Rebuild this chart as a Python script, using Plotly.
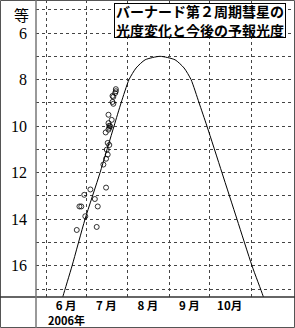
import plotly.graph_objects as go

# observed magnitudes (date, total magnitude)
obs_dates = [
    "2006-06-23 22:00", "2006-06-25 22:00", "2006-06-27 07:00", "2006-06-29 12:00",
    "2006-06-30 07:00", "2006-07-04 02:00", "2006-07-07 10:00", "2006-07-08 19:00",
    "2006-07-09 14:00", "2006-07-13 19:00", "2006-07-15 19:00", "2006-07-15 19:00",
    "2006-07-16 07:00", "2006-07-15 12:00", "2006-07-17 00:00", "2006-07-17 00:00",
    "2006-07-18 05:00", "2006-07-17 14:00", "2006-07-17 14:00", "2006-07-18 05:00",
    "2006-07-18 05:00", "2006-07-17 14:00", "2006-07-18 19:00", "2006-07-20 00:00",
    "2006-07-20 14:00", "2006-07-21 05:00", "2006-07-20 14:00", "2006-07-21 05:00",
    "2006-07-22 14:00", "2006-07-23 02:00", "2006-07-23 02:00",
]
obs_mags = [
    14.46, 13.45, 13.45, 12.95,
    13.87, 12.72, 13.13, 14.33,
    13.45, 11.65, 12.64, 11.40,
    11.01, 10.27, 11.22, 10.72,
    10.81, 9.51, 9.87, 9.98,
    10.07, 10.15, 10.00, 9.73,
    8.96, 9.04, 8.70, 8.74,
    8.58, 8.50, 8.41,
]

# predicted light curve
pred_dates = [
    "2006-06-12 05:00", "2006-06-13 17:00", "2006-06-20 10:00", "2006-06-30 02:00",
    "2006-07-11 07:00", "2006-07-21 17:00", "2006-07-27 00:00", "2006-08-01 22:00",
    "2006-08-07 05:00", "2006-08-13 22:00", "2006-08-25 02:00", "2006-09-05 07:00",
    "2006-09-12 00:00", "2006-09-17 05:00", "2006-09-23 05:00", "2006-09-29 02:00",
    "2006-10-10 07:00", "2006-10-21 12:00", "2006-11-01 17:00", "2006-11-09 22:00",
    "2006-11-11 10:00",
]
pred_mags = [
    17.6, 17.29, 16.0, 14.0,
    12.0, 10.0, 9.0, 8.0,
    7.5, 7.15, 7.0, 7.15,
    7.5, 8.0, 9.0, 10.0,
    12.0, 14.0, 16.0, 17.29,
    17.6,
]

month_label_pos = ["2006-06-16", "2006-07-16", "2006-08-16", "2006-09-16", "2006-10-16"]
month_labels = ["6 月", "7 月", "8 月", "9 月", "10月"]
month_starts = ["2006-06-01", "2006-07-01", "2006-08-01", "2006-09-01", "2006-10-01", "2006-11-01"]
mag_ticks = [6, 8, 10, 12, 14, 16]
mag_grid = [5, 7, 9, 11, 13, 15, 17]

title_text = "バーナード第２周期彗星の<br>光度変化と今後の予報光度"
y_title = "等"
year_label = "2006年"

W, H = 295, 328
L, R, T, B = 36, 2, 0, 31
PW, PH = W - L - R, H - T - B

fig = go.Figure()
fig.add_trace(go.Scatter(
    x=pred_dates, y=pred_mags, mode="lines", line=dict(color="black", width=1, shape="spline", smoothing=0.6),
    hoverinfo="skip", showlegend=False,
))
fig.add_trace(go.Scatter(
    x=obs_dates, y=obs_mags, mode="markers",
    marker=dict(symbol="circle-open", size=5, color="black", line=dict(width=0.8, color="black")),
    showlegend=False,
))

grid_col = "#444"
fig.update_layout(
    width=W, height=H, margin=dict(l=L, r=R, t=T, b=B),
    paper_bgcolor="white", plot_bgcolor="white",
    font=dict(family="Noto Sans CJK JP", color="black"),
    xaxis=dict(
        type="date", range=["2006-05-24 12:00", "2006-12-02 07:00"],
        tickmode="array", tickvals=month_label_pos, ticktext=month_labels,
        showgrid=False, zeroline=False, showline=False, ticks="",
        tickfont=dict(family="Noto Sans CJK JP", size=11.5, color="black", weight="bold"),
        ticklabelstandoff=0,
        minor=dict(tickmode="array", tickvals=month_starts, showgrid=True, gridcolor=grid_col,
                   gridwidth=1, griddash="dot", ticks=""),
    ),
    yaxis=dict(
        range=[17.34, 4.58], tickmode="array", tickvals=mag_ticks,
        showgrid=True, gridcolor=grid_col, gridwidth=1, griddash="dot",
        zeroline=False, showline=False, ticks="",
        tickfont=dict(family="Liberation Serif", size=16, color="black"),
        ticklabelstandoff=8,
        minor=dict(tickmode="array", tickvals=mag_grid, showgrid=True, gridcolor=grid_col,
                   gridwidth=1, griddash="dot", ticks=""),
    ),
)

px = lambda v: (v - L) / PW
py = lambda v: (H - B - v) / PH

frame = "#555"
fig.add_shape(type="rect", xref="paper", yref="paper", x0=px(0.5), x1=px(W - 0.5), y0=py(H - 0.5), y1=py(0.5),
              line=dict(color=frame, width=1))
fig.add_shape(type="line", xref="paper", yref="paper", x0=px(0), x1=px(W), y0=0, y1=0,
              line=dict(color="#333", width=1.5))
fig.add_shape(type="line", xref="paper", yref="paper", x0=0, x1=0, y0=py(H), y1=1,
              line=dict(color="#777", width=1.5))

fig.add_annotation(xref="paper", yref="paper", x=px(200), y=py(20), xanchor="center", yanchor="middle",
                   text=title_text, showarrow=False, width=170, height=33, valign="middle",
                   font=dict(family="Noto Sans CJK JP", size=14, color="black", weight="bold"),
                   bgcolor="white", bordercolor="black", borderwidth=1, borderpad=0, align="center")
fig.add_annotation(xref="paper", yref="paper", x=px(21), y=py(14), xanchor="center", yanchor="middle",
                   text=y_title, showarrow=False,
                   font=dict(family="Noto Sans CJK JP", size=15, color="black"))
fig.add_annotation(xref="paper", yref="paper", x=px(66), y=py(319.5), xanchor="center", yanchor="middle",
                   text=year_label, showarrow=False,
                   font=dict(family="Noto Sans CJK JP", size=11, color="black", weight="bold"))

fig.write_html("out.html")
